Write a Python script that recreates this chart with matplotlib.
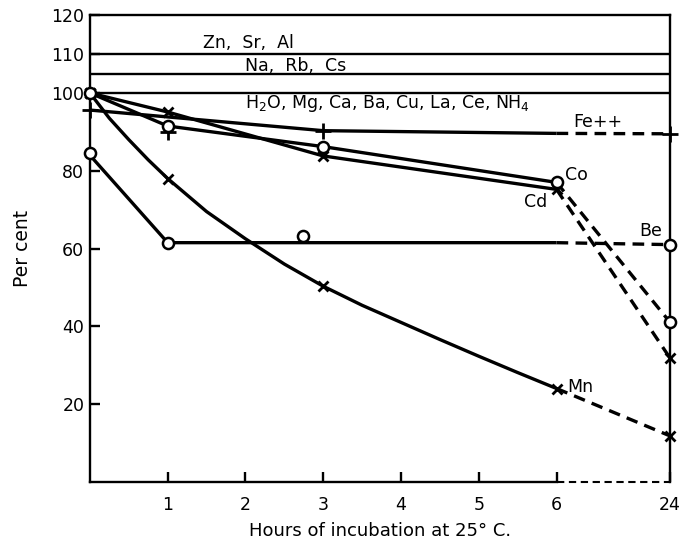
import numpy as np
import matplotlib.pyplot as plt

# the time axis is broken: 0..6 h are spaced evenly, 24 h sits just past 6
X_END = 7.46


def hpos(hours):
    h = np.asarray(hours, dtype=float)
    return np.where(h > 6, X_END, h)


tick_hours = [1, 2, 3, 4, 5, 6, 24]
y_ticks = [20, 40, 60, 80, 100, 110, 120]

band_levels = [110, 105, 100]
band_labels = ["Zn,  Sr,  Al", "Na,  Rb,  Cs", r"H$_2$O, Mg, Ca, Ba, Cu, La, Ce, NH$_4$"]
band_label_h = [1.45, 2.0, 2.0]
band_label_y = [112.8, 107.0, 97.2]

# measured points
fe_h = [0, 1, 3, 24]
fe_v = [95.6, 90.0, 90.3, 89.5]
co_h = [0, 1, 3, 6, 24]
co_v = [100, 91.5, 86.2, 77.0, 41.0]
cd_h = [0, 1, 3, 6, 24]
cd_v = [100, 95.1, 83.8, 75.2, 31.8]
be_h = [0, 1, 2.74, 24]
be_v = [84.5, 61.5, 63.1, 61.0]
mn_h = [0, 1, 3, 6, 24]
mn_v = [100, 78.0, 50.3, 24.0, 11.8]

# drawn curves, solid part (0-6 h)
fe_line_h = [0, 3, 6]
fe_line_v = [95.6, 90.3, 89.6]
co_line_h = [0, 1, 3, 6]
co_line_v = [100, 91.5, 86.2, 77.0]
cd_line_h = [0, 1, 3, 6]
cd_line_v = [100, 95.1, 83.8, 75.2]
be_line_h = [0, 1, 6]
be_line_v = [84.0, 61.5, 61.5]
mn_line_h = [0, 0.25, 0.5, 0.75, 1, 1.5, 2, 2.5, 3, 3.5, 4, 4.5, 5, 5.5, 6]
mn_line_v = [100, 93.5, 88.0, 82.8, 78.0, 69.5, 62.5, 56.0, 50.3, 45.4, 41.0, 36.6, 32.3, 28.1, 24.0]

# dashed part (6-24 h)
dash_h = [6, 24]
fe_dash_v = [89.6, 89.5]
co_dash_v = [77.0, 41.0]
cd_dash_v = [75.2, 31.8]
be_dash_v = [61.5, 61.0]
mn_dash_v = [24.0, 11.8]

labels = ["Fe++", "Co", "Cd", "Be", "Mn"]
label_h = [6.22, 6.11, 5.88, 7.36, 6.14]
label_v = [92.5, 79.0, 72.0, 64.4, 24.4]
label_ha = ["left", "left", "right", "right", "left"]

plt.rcParams["font.family"] = "DejaVu Sans"

fig = plt.figure(figsize=(6.81, 5.42), dpi=100)
ax = fig.add_axes([0.132, 0.111, 0.852, 0.861])

ax.set_xlim(0, X_END)
ax.set_ylim(0, 120)

lw = 2.4
dash = (0, (3.5, 2.2))

for lv in band_levels:
    ax.axhline(lv, color="black", lw=1.7)
for txt, lh, ly in zip(band_labels, band_label_h, band_label_y):
    ax.text(lh, ly, txt, fontsize=12.5, va="center", ha="left")

for lh, lv_ in [(fe_line_h, fe_line_v), (co_line_h, co_line_v), (cd_line_h, cd_line_v),
                (be_line_h, be_line_v), (mn_line_h, mn_line_v)]:
    ax.plot(hpos(lh), lv_, color="black", lw=lw, solid_capstyle="butt")

for dv in [fe_dash_v, co_dash_v, cd_dash_v, be_dash_v, mn_dash_v]:
    ax.plot(hpos(dash_h), dv, color="black", lw=lw, linestyle=dash)

mk = dict(color="black", linestyle="none", clip_on=False, zorder=5)
ax.plot(hpos(fe_h), fe_v, marker="+", markersize=11, markeredgewidth=2, **mk)
ax.plot(hpos(cd_h), cd_v, marker="x", markersize=7, markeredgewidth=2, **mk)
ax.plot(hpos(mn_h), mn_v, marker="x", markersize=7, markeredgewidth=2, **mk)
ax.plot(hpos(co_h), co_v, marker="o", markersize=8, markerfacecolor="white",
        markeredgewidth=1.8, **mk)
ax.plot(hpos(be_h), be_v, marker="o", markersize=8, markerfacecolor="white",
        markeredgewidth=1.8, **mk)

for txt, h, v, ha in zip(labels, label_h, label_v, label_ha):
    ax.text(h, v, txt, fontsize=12.5, ha=ha, va="center")

# axes frame: the bottom axis turns dashed after 6 h
for s in ["left", "top", "right", "bottom"]:
    ax.spines[s].set_linewidth(1.7)
ax.spines["bottom"].set_bounds(0, 6)
ax.plot(hpos(dash_h), [0, 0], color="black", lw=1.5, linestyle=dash, clip_on=False)

ax.set_xticks(hpos(tick_hours))
ax.set_xticklabels([str(h) for h in tick_hours])
ax.set_yticks(y_ticks)
ax.set_yticklabels([str(v) for v in y_ticks])
ax.tick_params(axis="both", direction="in", length=7, width=1.7, labelsize=12.5)
ax.tick_params(axis="x", pad=10)
ax.tick_params(axis="y", pad=4)

ax.set_xlabel("Hours of incubation at 25° C.", fontsize=13, labelpad=6)
ax.set_ylabel("Per cent", fontsize=13.5, labelpad=14)

fig.savefig("out.png", dpi=100)
